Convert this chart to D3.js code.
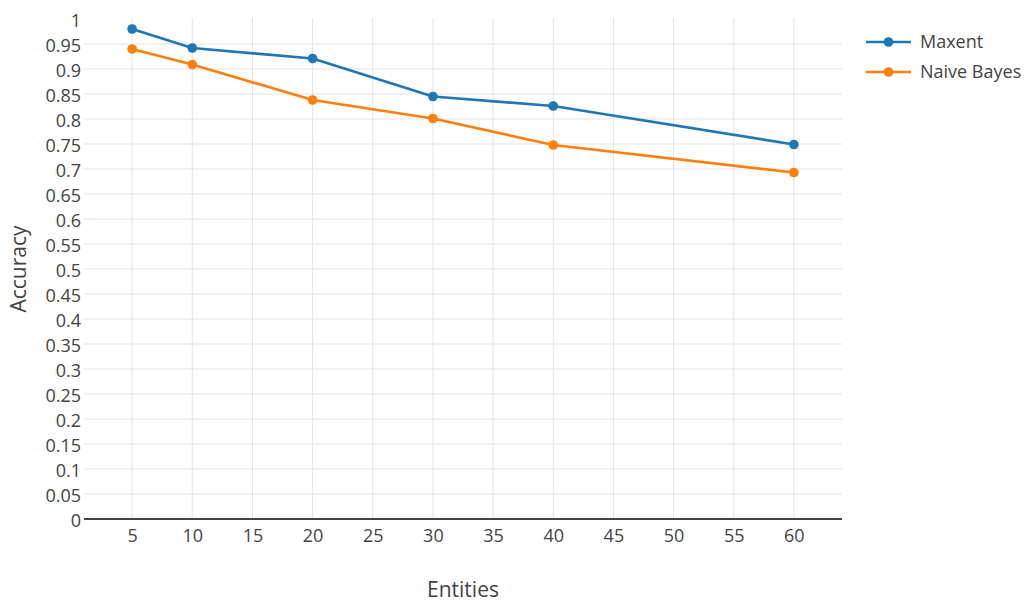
<!DOCTYPE html>
<html><head><meta charset="utf-8">
<script src="https://cdn.jsdelivr.net/npm/d3@7"></script>
<style>
body{margin:0;background:#fff;}
text{font-family:"Open Sans",sans-serif;fill:#444;}
</style></head>
<body>
<svg id="c" width="1027" height="602"></svg>
<script>
const entities = [5, 10, 20, 30, 40, 60];
const maxent = [0.980, 0.942, 0.921, 0.845, 0.826, 0.749];
const naiveBayes = [0.940, 0.909, 0.838, 0.801, 0.748, 0.693];
const seriesNames = ["Maxent", "Naive Bayes"];
const colors = ["#1f77b4", "#ff7f0e"];
const xTicks = [5,10,15,20,25,30,35,40,45,50,55,60];
const yTicks = d3.range(0, 21).map(i => +(i*0.05).toFixed(2));

const svg = d3.select("#c");
const L = 84, R = 842, T = 19, B = 519;
const x = d3.scaleLinear().domain([1, 64]).range([L, R]);
const y = d3.scaleLinear().domain([0, 1]).range([B, T]);

const g = svg.append("g");
g.selectAll(".vg").data(xTicks).enter().append("line")
  .attr("x1", d => x(d)).attr("x2", d => x(d)).attr("y1", T-1).attr("y2", B)
  .attr("stroke", "#e3e3e3").attr("stroke-width", 1);
g.selectAll(".hg").data(yTicks.filter(d => d > 0 && d < 1)).enter().append("line")
  .attr("x1", L).attr("x2", R).attr("y1", d => y(d)).attr("y2", d => y(d))
  .attr("stroke", "#e3e3e3").attr("stroke-width", 1);
g.append("line").attr("x1", L).attr("x2", R).attr("y1", y(0)).attr("y2", y(0))
  .attr("stroke", "#444").attr("stroke-width", 2);

const xAxis = d3.axisBottom(x).tickValues(xTicks).tickSize(0).tickPadding(10);
const xa = svg.append("g").attr("transform", `translate(0,${B})`).call(xAxis);
xa.select(".domain").remove();
xa.selectAll("text").style("font-size", "18px").style("font-family", "'Open Sans',sans-serif").attr("fill", "#444");

const yAxis = d3.axisLeft(y).tickValues(yTicks).tickSize(0).tickPadding(3)
  .tickFormat(d => String(+d.toFixed(2)));
const ya = svg.append("g").attr("transform", `translate(${L},0)`).call(yAxis);
ya.select(".domain").remove();
ya.selectAll("text").attr("dy", "0.4em").style("font-size", "18px").style("font-family", "'Open Sans',sans-serif").attr("fill", "#444");

svg.append("text").attr("x", 463).attr("y", 590).attr("dy", "0.35em").attr("text-anchor", "middle")
  .style("font-size", "21px").text("Entities");
svg.append("text").attr("transform", "translate(19,269) rotate(-90)").attr("dy", "0.35em")
  .attr("text-anchor", "middle").style("font-size", "21px").text("Accuracy");

const data = [maxent, naiveBayes];
const line = d3.line().x((d, i) => x(entities[i])).y(d => y(d));
data.forEach((vals, si) => {
  svg.append("path").datum(vals).attr("d", line).attr("fill", "none")
    .attr("stroke", colors[si]).attr("stroke-width", 2.7).attr("stroke-linejoin", "round");
  svg.selectAll(".m" + si).data(vals).enter().append("circle")
    .attr("cx", (d, i) => x(entities[i])).attr("cy", d => y(d)).attr("r", 4.8)
    .attr("fill", colors[si]);
});

seriesNames.forEach((name, i) => {
  const ly = 42 + i * 30;
  const lg = svg.append("g");
  lg.append("line").attr("x1", 866).attr("x2", 911).attr("y1", ly).attr("y2", ly)
    .attr("stroke", colors[i]).attr("stroke-width", 2.7);
  lg.append("circle").attr("cx", 888.5).attr("cy", ly).attr("r", 4.8).attr("fill", colors[i]);
  lg.append("text").attr("x", 920).attr("y", ly).attr("dy", "0.35em")
    .style("font-size", "18px").text(name);
});
</script>
</body></html>
